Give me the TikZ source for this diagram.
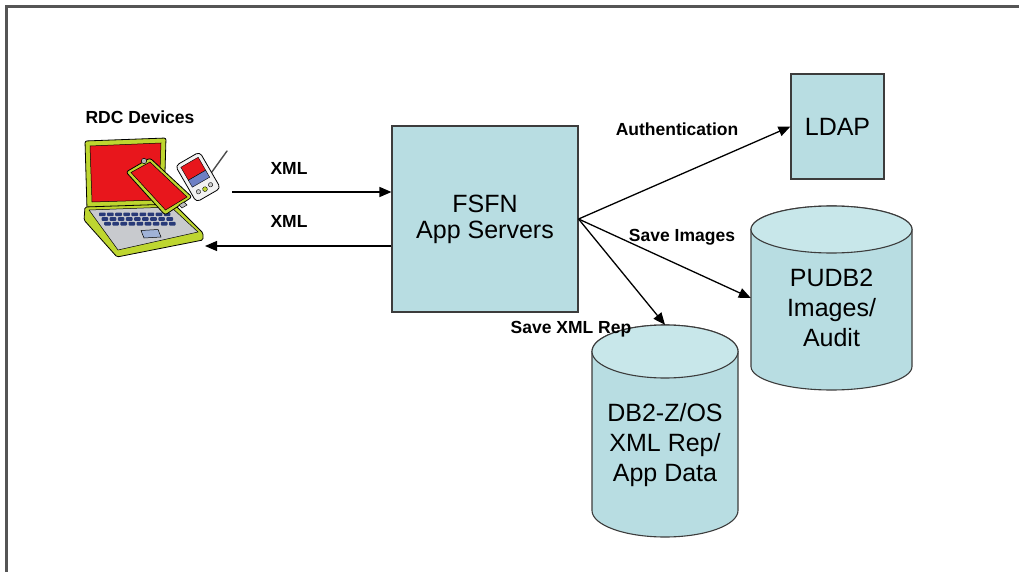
\documentclass[tikz,border=0pt]{standalone}
\usepackage{fontspec}
\setmainfont{Liberation Sans}
\usetikzlibrary{arrows.meta,calc}
\definecolor{boxfill}{RGB}{184,221,226}
\definecolor{capfill}{RGB}{200,231,234}
\definecolor{edge}{RGB}{60,60,60}
\definecolor{lime}{RGB}{190,214,48}
\definecolor{scr}{RGB}{232,22,28}
\definecolor{keyblue}{RGB}{40,58,120}
\definecolor{basegrey}{RGB}{200,202,206}
\definecolor{padblue}{RGB}{160,178,215}
\definecolor{pdablue}{RGB}{110,128,196}
\definecolor{framegrey}{RGB}{85,85,85}

\begin{document}
\begin{tikzpicture}[x=1pt,y=1pt,
  box/.style={draw=edge, line width=1.1pt, fill=boxfill,
    font=\fontsize{25}{26}\selectfont, align=center, inner sep=0pt},
  lbl/.style={font=\bfseries\fontsize{17.5}{20}\selectfont, anchor=base, inner sep=0pt},
  bigtxt/.style={font=\fontsize{25}{30}\selectfont, align=center, inner sep=0pt},
  flow/.style={line width=1.3pt, -{Triangle[length=12pt,width=10pt]}},
  cylline/.style={draw=edge, line width=1.1pt},
  outl/.style={draw=black, line width=0.8pt, line join=round}]

\useasboundingbox (0,0) rectangle (1019,-572);
\fill[white] (0,0) rectangle (1019,-572);
\draw[framegrey, line width=3pt] (6,-572) -- (6,-7) -- (1019,-7);

% application servers and directory
\node[box, minimum width=186, minimum height=186] (fsfn) at (485,-219) {FSFN\\App Servers};
\node[box, minimum width=93, minimum height=105] (ldap) at (837.5,-126.5) {\raisebox{-2pt}{LDAP}};

% image / audit database
\node[minimum width=161, minimum height=184, inner sep=0pt] (pudb) at (831.5,-298) {};
\path[cylline, fill=boxfill] (751,-229.5) -- (751,-366.5)
  arc[start angle=180, end angle=360, x radius=80.5, y radius=23.5]
  -- (912,-229.5)
  arc[start angle=0, end angle=180, x radius=80.5, y radius=23.5] -- cycle;
\path[cylline, fill=capfill] (831.5,-229.5) ellipse[x radius=80.5, y radius=23.5];
\node[bigtxt] (pudbtxt) at (831.5,-308) {PUDB2\\Images/\\Audit};

% main database
\node[minimum width=146, minimum height=212, inner sep=0pt] (db2) at (665,-431) {};
\path[cylline, fill=boxfill] (592,-351.5) -- (592,-510.5)
  arc[start angle=180, end angle=360, x radius=73, y radius=26.5]
  -- (738,-351.5)
  arc[start angle=0, end angle=180, x radius=73, y radius=26.5] -- cycle;
\path[cylline, fill=capfill] (665,-351.5) ellipse[x radius=73, y radius=26.5];
\node[bigtxt] (db2txt) at (665,-445.5) {DB2-Z/OS\\XML Rep/\\App Data};

% connectors from the servers
\draw[flow] (fsfn.east) -- (ldap.west);
\draw[flow] (fsfn.east) -- (pudb.west);
\draw[flow] (fsfn.east) -- (db2.north);

% device traffic
\coordinate (xmlin) at (232,-192);
\coordinate (xmlout) at (205,-246);
\draw[flow] (xmlin) -- (xmlin -| fsfn.west);
\draw[flow] (xmlout -| fsfn.west) -- (xmlout);

% labels
\node[lbl] (xml1) at (289,-175) {XML};
\node[lbl] (xml2) at (289,-227.3) {XML};
\node[lbl] (auth) at (677,-136) {Authentication};
\node[lbl] (saveimg) at (682,-241) {Save Images};
\node[lbl] (savexml) at (571,-333) {Save XML Rep};
\node[lbl] (rdc) at (140,-123.3) {RDC Devices};

% device clip art (y measured downwards)
\begin{scope}[yscale=-1]
  % laptop lid
  \filldraw[fill=lime, outl, rounded corners=2pt] (85,141) -- (166,138) -- (164,206) -- (87,209) -- cycle;
  \filldraw[fill=scr, draw=black, line width=0.5pt] (90,146) -- (161,143) -- (159,200) -- (92,202) -- cycle;
  % laptop base
  \filldraw[fill=lime, outl, rounded corners=1.5pt] (85,207) -- (174,204) -- (203,233) -- (203,240) -- (117,257) -- (84,220) -- cycle;
  \filldraw[fill=basegrey, draw=black, line width=0.5pt] (89,210) -- (171,207) -- (198,232) -- (118,250) -- cycle;
  \foreach \r in {0,1,2}
    \foreach \k in {0,...,8}
      \fill[keyblue, rounded corners=0.8pt]
        ({99+\k*8.1+\r*2.6},{212.5+\r*4.7}) rectangle ++(6.6,3.6);
  \filldraw[fill=padblue, draw=black, line width=0.5pt] (141,230.5) -- (158,229.5) -- (161,237) -- (144,238) -- cycle;
  % tablet
  \filldraw[fill=lime, outl, rounded corners=2.5pt] (126,172) -- (150,158) -- (192,197) -- (165,215) -- cycle;
  \filldraw[fill=scr, draw=black, line width=0.5pt] (131,172.5) -- (150,162) -- (187,197) -- (165.5,210) -- cycle;
  \filldraw[fill=gray!60, draw=black, line width=0.5pt] (144,161) circle (2.7);
  \filldraw[fill=gray!50, draw=black, line width=0.5pt] (179,205) -- (184,202) -- (187,205) -- (182,208) -- cycle;
  % handheld with stylus
  \draw[line width=1.4pt, black!70, line cap=round] (209,176) -- (227,151);
  \begin{scope}[shift={(198,177)}, rotate=-30]
    \filldraw[fill=white!90!gray, outl, rounded corners=4pt] (-14,-21) rectangle (14,21);
    \filldraw[fill=scr, draw=black, line width=0.4pt] (-10,-17) rectangle (10,-2);
    \filldraw[fill=pdablue, draw=black, line width=0.4pt] (-10,-2) rectangle (10,6);
    \filldraw[fill=gray!40, draw=black, line width=0.4pt] (-7,13) circle (2.2);
    \filldraw[fill=lime, draw=black, line width=0.4pt] (0,14) circle (2.4);
    \filldraw[fill=gray!40, draw=black, line width=0.4pt] (7,13) circle (2.2);
  \end{scope}
\end{scope}
\end{tikzpicture}
\end{document}
